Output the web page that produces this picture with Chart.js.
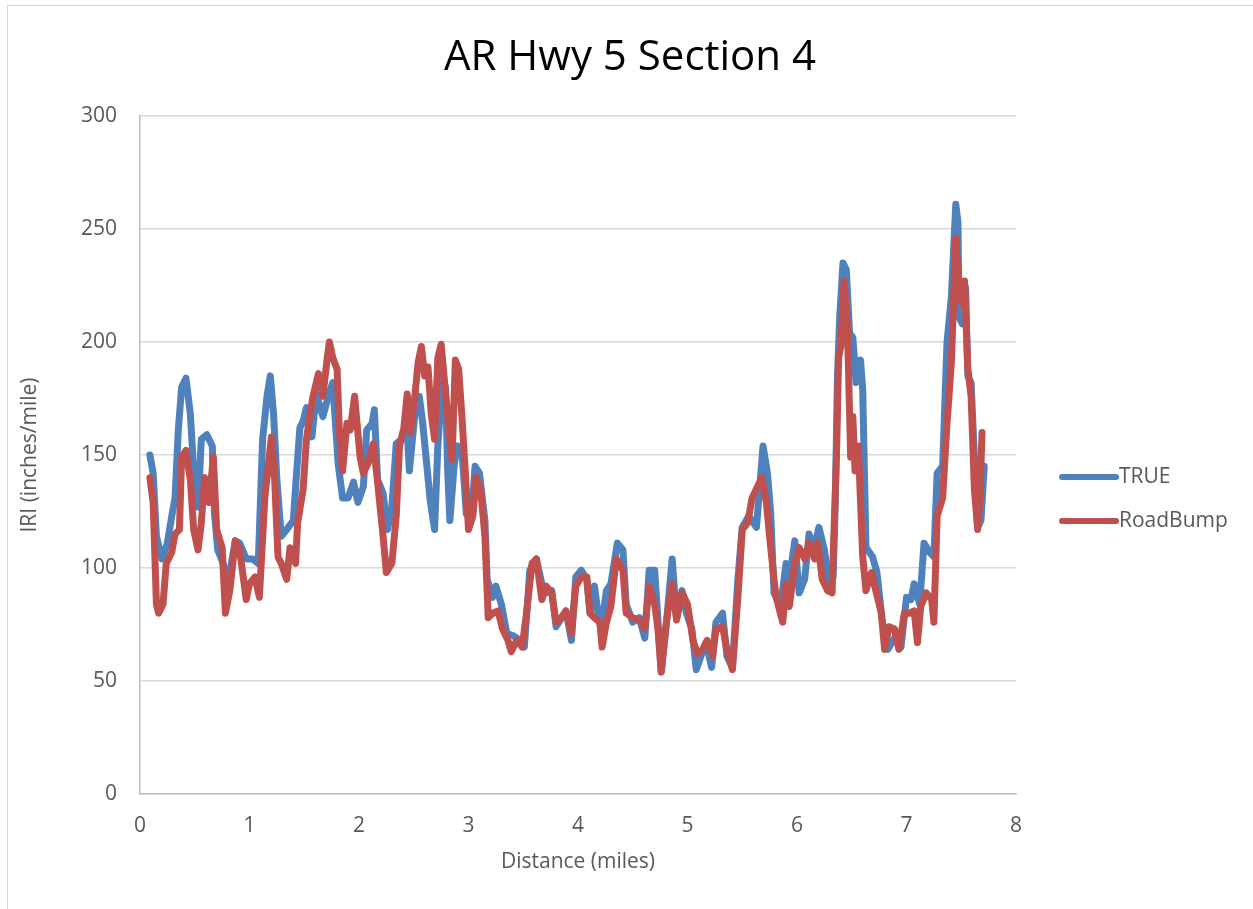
<!DOCTYPE html>
<html>
<head>
<meta charset="utf-8">
<title>AR Hwy 5 Section 4</title>
<script src="https://cdn.jsdelivr.net/npm/chart.js@4.4.1/dist/chart.umd.min.js"></script>
<style>
    html, body { margin: 0; padding: 0; background: #ffffff; overflow: hidden; }
    #frame {
        position: absolute; left: 7px; top: 5px; width: 1300px; height: 960px;
        border: 1.5px solid #d9d9d9; box-sizing: border-box;
    }
    #wrap { position: absolute; left: 0; top: 0; width: 1253px; height: 909px; }
</style>
</head>
<body>
<div id="frame"></div>
<div id="wrap"><canvas id="myChart" width="1253" height="909"></canvas></div>
<script>
// Values (miles, inches/mile)
const trueDist = [0.09, 0.12, 0.15, 0.2, 0.25, 0.29, 0.32, 0.35, 0.38, 0.42, 0.46, 0.49, 0.53, 0.56, 0.61, 0.66, 0.68, 0.71, 0.76, 0.8,
    0.87, 0.91, 0.97, 1.03, 1.08, 1.12, 1.16, 1.19, 1.22, 1.25, 1.29, 1.34, 1.4, 1.43, 1.46, 1.49, 1.52, 1.57, 1.61, 1.67,
    1.72, 1.76, 1.81, 1.85, 1.9, 1.95, 1.99, 2.04, 2.07, 2.12, 2.14, 2.17, 2.22, 2.26, 2.3, 2.34, 2.39, 2.44, 2.46, 2.51,
    2.55, 2.58, 2.65, 2.69, 2.72, 2.76, 2.79, 2.81, 2.83, 2.87, 2.9, 2.94, 2.98, 3.03, 3.06, 3.1, 3.15, 3.17, 3.22, 3.25,
    3.3, 3.35, 3.41, 3.47, 3.51, 3.56, 3.62, 3.67, 3.71, 3.76, 3.8, 3.85, 3.89, 3.94, 3.98, 4.03, 4.08, 4.11, 4.15, 4.18,
    4.21, 4.26, 4.3, 4.36, 4.41, 4.44, 4.5, 4.56, 4.61, 4.65, 4.7, 4.73, 4.76, 4.81, 4.86, 4.9, 4.95, 4.99, 5.04, 5.08,
    5.13, 5.17, 5.22, 5.26, 5.32, 5.36, 5.41, 5.46, 5.5, 5.56, 5.63, 5.66, 5.69, 5.73, 5.76, 5.79, 5.85, 5.9, 5.93, 5.98,
    6.02, 6.07, 6.11, 6.16, 6.2, 6.25, 6.3, 6.33, 6.35, 6.37, 6.39, 6.42, 6.45, 6.48, 6.51, 6.54, 6.58, 6.6, 6.63, 6.69,
    6.73, 6.78, 6.83, 6.89, 6.95, 7.0, 7.04, 7.07, 7.12, 7.16, 7.21, 7.25, 7.28, 7.33, 7.37, 7.41, 7.45, 7.47, 7.48, 7.51,
    7.54, 7.56, 7.59, 7.62, 7.65, 7.68, 7.71];
const trueIri = [150, 142, 114, 104, 111, 123, 131, 161, 180, 184, 168, 143, 127, 157, 159, 154, 124, 108, 102, 92,
    112, 111, 104, 104, 102, 157, 176, 185, 168, 139, 114, 117, 121, 142, 162, 165, 171, 158, 177, 167,
    176, 182, 146, 131, 131, 138, 129, 136, 161, 164, 170, 139, 133, 117, 127, 155, 157, 161, 143, 168,
    176, 165, 130, 117, 154, 183, 180, 143, 121, 146, 154, 152, 124, 124, 145, 142, 121, 95, 87, 92,
    84, 71, 70, 68, 65, 99, 104, 93, 89, 90, 74, 78, 81, 68, 96, 99, 95, 80, 92, 81,
    73, 90, 93, 111, 108, 84, 76, 78, 69, 99, 99, 77, 54, 77, 104, 78, 90, 80, 73, 55,
    62, 67, 56, 76, 80, 61, 56, 95, 118, 123, 118, 136, 154, 142, 124, 89, 83, 102, 95, 112,
    89, 95, 115, 109, 118, 108, 92, 96, 130, 185, 211, 235, 232, 204, 202, 182, 192, 179, 109, 105,
    98, 76, 64, 69, 65, 87, 86, 93, 84, 111, 107, 105, 142, 145, 200, 220, 261, 253, 211, 208,
    224, 185, 182, 149, 118, 121, 145];

const bumpDist = [0.09, 0.12, 0.15, 0.17, 0.21, 0.24, 0.29, 0.32, 0.36, 0.38, 0.42, 0.46, 0.49, 0.53, 0.56, 0.59, 0.63, 0.67, 0.7, 0.75,
    0.78, 0.82, 0.87, 0.91, 0.97, 1.0, 1.05, 1.09, 1.14, 1.2, 1.23, 1.26, 1.29, 1.34, 1.37, 1.42, 1.44, 1.49, 1.52, 1.55,
    1.58, 1.63, 1.67, 1.71, 1.73, 1.76, 1.8, 1.82, 1.85, 1.89, 1.92, 1.96, 2.01, 2.04, 2.08, 2.13, 2.17, 2.22, 2.25, 2.3,
    2.34, 2.37, 2.41, 2.44, 2.47, 2.51, 2.54, 2.57, 2.6, 2.63, 2.66, 2.69, 2.72, 2.75, 2.78, 2.81, 2.85, 2.88, 2.91, 2.94,
    2.97, 3.0, 3.04, 3.07, 3.11, 3.15, 3.18, 3.22, 3.27, 3.31, 3.36, 3.39, 3.44, 3.49, 3.53, 3.58, 3.62, 3.67, 3.71, 3.76,
    3.8, 3.85, 3.89, 3.94, 3.98, 4.03, 4.08, 4.11, 4.15, 4.2, 4.22, 4.26, 4.3, 4.35, 4.41, 4.44, 4.5, 4.56, 4.61, 4.65,
    4.7, 4.73, 4.76, 4.81, 4.86, 4.9, 4.95, 5.0, 5.05, 5.09, 5.14, 5.18, 5.23, 5.26, 5.32, 5.36, 5.41, 5.46, 5.5, 5.55,
    5.59, 5.64, 5.68, 5.72, 5.76, 5.79, 5.81, 5.87, 5.9, 5.93, 5.98, 6.02, 6.07, 6.11, 6.16, 6.19, 6.23, 6.28, 6.32, 6.36,
    6.38, 6.4, 6.43, 6.46, 6.49, 6.51, 6.53, 6.56, 6.6, 6.63, 6.68, 6.72, 6.77, 6.8, 6.84, 6.89, 6.93, 6.98, 7.03, 7.07,
    7.1, 7.13, 7.18, 7.23, 7.25, 7.28, 7.33, 7.37, 7.41, 7.45, 7.48, 7.51, 7.53, 7.56, 7.59, 7.62, 7.65, 7.67, 7.69];
const bumpIri = [140, 129, 84, 80, 84, 102, 107, 115, 117, 149, 152, 139, 117, 108, 120, 140, 129, 149, 117, 109,
    80, 90, 112, 108, 86, 93, 96, 87, 131, 158, 139, 105, 102, 95, 109, 102, 120, 135, 157, 167,
    176, 186, 176, 193, 200, 193, 188, 161, 143, 164, 161, 176, 149, 142, 146, 155, 138, 114, 98, 102,
    123, 154, 162, 177, 160, 176, 191, 198, 185, 189, 168, 157, 193, 199, 183, 167, 148, 192, 188, 167,
    143, 117, 123, 140, 135, 114, 78, 80, 81, 73, 68, 63, 68, 65, 80, 102, 104, 86, 92, 89,
    76, 78, 81, 71, 92, 96, 96, 80, 78, 76, 65, 76, 83, 104, 99, 80, 78, 77, 73, 92,
    84, 73, 54, 77, 93, 77, 89, 84, 68, 62, 64, 68, 61, 73, 74, 64, 55, 87, 117, 120,
    131, 136, 140, 129, 109, 95, 87, 76, 93, 83, 102, 109, 104, 111, 104, 111, 95, 90, 89, 149,
    193, 198, 227, 208, 149, 167, 143, 154, 105, 90, 98, 90, 80, 64, 74, 73, 64, 80, 80, 81,
    67, 83, 89, 86, 76, 123, 131, 164, 191, 246, 223, 217, 227, 188, 176, 135, 117, 131, 160];

const seriesNames = ['TRUE', 'RoadBump'];
const seriesColors = ['#4F81BD', '#C0504D'];
const xTicks = [0, 1, 2, 3, 4, 5, 6, 7, 8];
const yTicks = [0, 50, 100, 150, 200, 250, 300];
const chartTitle = 'AR Hwy 5 Section 4';

const fontFamily = '"Open Sans", "Noto Sans", sans-serif';
const textColor = '#595959';

function toPoints(xs, ys) {
    return xs.map((x, i) => ({ x: x, y: ys[i] }));
}

// Title centred on the whole frame, legend on the right, like the Excel original
const frameText = {
    id: 'frameText',
    afterDraw(chart) {
        const ctx = chart.ctx;
        const area = chart.chartArea;
        ctx.save();
        ctx.font = '42px ' + fontFamily;
        ctx.fillStyle = '#000000';
        ctx.textAlign = 'center';
        ctx.textBaseline = 'middle';
        ctx.fillText(chartTitle, 630, 58);

        const x0 = area.right + 46;
        const midY = (area.top + area.bottom) / 2;
        ctx.font = '21px ' + fontFamily;
        ctx.textAlign = 'left';
        chart.data.datasets.forEach((ds, i) => {
            const y = midY + 22 + i * 44;
            ctx.strokeStyle = ds.borderColor;
            ctx.lineWidth = 6;
            ctx.lineCap = 'round';
            ctx.beginPath();
            ctx.moveTo(x0, y);
            ctx.lineTo(x0 + 54, y);
            ctx.stroke();
            ctx.fillStyle = textColor;
            ctx.fillText(ds.label, x0 + 57, y);
        });
        ctx.restore();
    }
};

document.addEventListener('DOMContentLoaded', function() {
    const ctx = document.getElementById('myChart').getContext('2d');
    new Chart(ctx, {
        type: 'line',
        data: {
            datasets: [{
                label: seriesNames[0],
                data: toPoints(trueDist, trueIri),
                borderColor: seriesColors[0],
                backgroundColor: seriesColors[0],
                order: 2
            }, {
                label: seriesNames[1],
                data: toPoints(bumpDist, bumpIri),
                borderColor: seriesColors[1],
                backgroundColor: seriesColors[1],
                order: 1
            }]
        },
        options: {
            responsive: false,
            animation: false,
            layout: { padding: { left: 0, right: 237, top: 116, bottom: 0 } },
            elements: {
                point: { radius: 0 },
                line: { borderWidth: 7, tension: 0, borderJoinStyle: 'round', borderCapStyle: 'round' }
            },
            plugins: {
                legend: { display: false },
                tooltip: { enabled: false },
                title: { display: false }
            },
            scales: {
                x: {
                    type: 'linear',
                    min: 0,
                    max: 8,
                    afterBuildTicks: axis => { axis.ticks = xTicks.map(v => ({ value: v })); },
                    afterFit: axis => { axis.height = 115; },
                    grid: { display: false, drawTicks: false },
                    border: { display: true, color: '#bfbfbf', width: 1.5 },
                    ticks: { color: textColor, font: { family: fontFamily, size: 21 }, padding: 19, maxRotation: 0 },
                    title: {
                        display: true,
                        text: 'Distance (miles)',
                        color: textColor,
                        font: { family: fontFamily, size: 21 },
                        padding: { top: 0, bottom: 34 }
                    }
                },
                y: {
                    min: 0,
                    max: 300,
                    afterBuildTicks: axis => { axis.ticks = yTicks.map(v => ({ value: v })); },
                    afterFit: axis => { axis.width = 140; },
                    grid: { color: '#d9d9d9', lineWidth: 1.5, drawTicks: false },
                    border: { display: true, color: '#bfbfbf', width: 1.5 },
                    ticks: { color: textColor, font: { family: fontFamily, size: 21 }, padding: 23 },
                    title: {
                        display: true,
                        text: 'IRI (inches/mile)',
                        color: textColor,
                        font: { family: fontFamily, size: 21 },
                        padding: { top: 17, bottom: 0 }
                    }
                }
            }
        },
        plugins: [frameText]
    });
});
</script>
</body>
</html>
